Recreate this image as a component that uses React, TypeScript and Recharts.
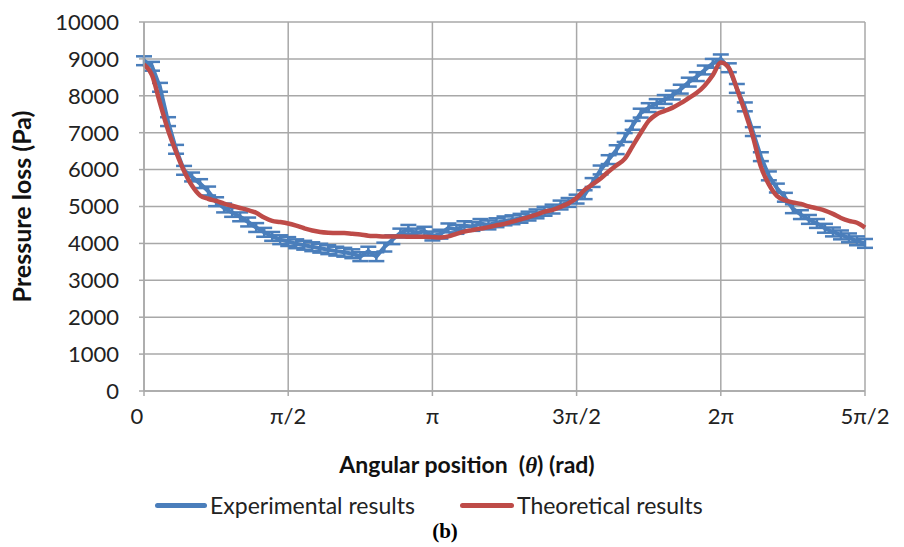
import React from 'react';
import { LineChart, Line, XAxis, YAxis, CartesianGrid, ErrorBar } from 'recharts';

// Angular position in degrees (0 .. 5π/2)
const angles = [
  0, 5, 10, 15, 20, 25, 30, 35, 40, 45, 50, 55, 60, 65, 70, 75, 80, 85, 90,
  95, 100, 105, 110, 115, 120, 125, 130, 135, 140, 145, 150, 155, 160, 165, 170, 175, 180,
  185, 190, 195, 200, 205, 210, 215, 220, 225, 230, 235, 240, 245, 250, 255, 260, 265, 270,
  275, 280, 285, 290, 295, 300, 305, 310, 315, 320, 325, 330, 335, 340, 345, 350, 355, 360,
  365, 370, 375, 380, 385, 390, 395, 400, 405, 410, 415, 420, 425, 430, 435, 440, 445, 450,
];

// Experimental pressure loss (Pa)
const experimental = [
  8950, 8800, 8230, 7300, 6550, 5980, 5800, 5620, 5420, 5130, 4960, 4840, 4720, 4580, 4430, 4300, 4190, 4100, 4050,
  3990, 3950, 3910, 3870, 3830, 3790, 3760, 3720, 3640, 3790, 3640, 3900, 4100, 4280, 4380, 4280, 4330, 4200,
  4250, 4420, 4380, 4480, 4460, 4540, 4500, 4560, 4610, 4640, 4680, 4740, 4800, 4870, 4930, 5040, 5110, 5200,
  5320, 5650, 5990, 6270, 6540, 6870, 7200, 7530, 7680, 7790, 7900, 8020, 8180, 8370, 8520, 8700, 8880, 9000,
  8760, 8200, 7700, 7030, 6350, 5830, 5500, 5250, 4940, 4780, 4650, 4540, 4410, 4310, 4230, 4150, 4070, 4000,
];

// Theoretical pressure loss (Pa)
const theoretical = [
  8850, 8560, 7800, 7070, 6480, 5960, 5560, 5300, 5210, 5150, 5080, 5020, 4960, 4900, 4830, 4700, 4610, 4580, 4540,
  4480, 4410, 4350, 4310, 4290, 4280, 4280, 4260, 4240, 4210, 4200, 4190, 4190, 4190, 4180, 4180, 4180, 4170,
  4160, 4190, 4260, 4320, 4360, 4400, 4440, 4490, 4530, 4590, 4650, 4710, 4780, 4860, 4910, 4990, 5090, 5230,
  5450, 5600, 5760, 5950, 6120, 6290, 6640, 6990, 7320, 7500, 7590, 7680, 7800, 7940, 8080, 8280, 8560, 8900,
  8760, 8200, 7580, 6900, 6080, 5600, 5290, 5170, 5110, 5070, 5000, 4950, 4890, 4800, 4690, 4610, 4560, 4430,
];

// error bar half-height (Pa), same for every measurement
const errorPa = 120;

const xTicks = [0, 90, 180, 270, 360, 450];
const xTickLabels = ['0', 'π/2', 'π', '3π/2', '2π', '5π/2'];
const yTicks = [0, 1000, 2000, 3000, 4000, 5000, 6000, 7000, 8000, 9000, 10000];

const data = angles.map((a, i) => ({
  angle: a,
  experimental: experimental[i],
  theoretical: theoretical[i],
  err: errorPa,
}));

const FONT = 'Lato, "Open Sans", sans-serif';
const BLUE = '#4a7ebb';
const RED = '#be4b48';

const XTick = (props: any) => {
  const { x, y, payload, index } = props;
  const dx = index === 0 ? -7 : 0;
  return (
    <text x={x + dx} y={y} dy="0.75em" textAnchor="middle" fontSize={22} fontFamily={FONT} fill="#222">
      {xTickLabels[xTicks.indexOf(payload.value)]}
    </text>
  );
};

export default function App() {
  return (
    <div style={{ position: 'relative', width: 904, height: 547, background: '#fff' }}>
      <style>{'body{margin:0}'}</style>
      <LineChart
        width={904}
        height={547}
        data={data}
        margin={{ top: 22, right: 39, left: 0, bottom: 116 }}
      >
        <CartesianGrid stroke="#a8a8a8" strokeWidth={1.5} />
        <XAxis
          dataKey="angle"
          type="number"
          domain={[0, 450]}
          ticks={xTicks}
          height={40}
          tickSize={5}
          tickMargin={11}
          stroke="#a8a8a8"
          strokeWidth={1.5}
          tick={<XTick />}
        />
        <YAxis
          type="number"
          domain={[0, 10000]}
          ticks={yTicks}
          width={144}
          tickSize={5}
          tickMargin={20}
          stroke="#a8a8a8"
          strokeWidth={1.5}
          tick={{ fontSize: 22, fontFamily: FONT, fill: '#222' }}
          label={{
            value: 'Pressure loss (Pa)',
            angle: -90,
            position: 'insideLeft',
            offset: 22,
            style: { textAnchor: 'middle', fontSize: 25, fontWeight: 700, fontFamily: FONT, fill: '#111' },
          }}
        />
        <Line
          type="linear"
          dataKey="experimental"
          stroke={BLUE}
          strokeWidth={4}
          dot={false}
          isAnimationActive={false}
        >
          <ErrorBar dataKey="err" width={8} strokeWidth={2.5} stroke={BLUE} direction="y" />
        </Line>
        <Line
          type="monotone"
          dataKey="theoretical"
          stroke={RED}
          strokeWidth={4.5}
          dot={false}
          isAnimationActive={false}
        />
      </LineChart>

      <div
        style={{
          position: 'absolute',
          left: 0,
          width: 934,
          top: 450,
          textAlign: 'center',
          fontFamily: FONT,
          fontWeight: 700,
          fontSize: 23,
          color: '#111',
          whiteSpace: 'pre',
        }}
      >
        {'Angular position  ('}
        <span style={{ fontFamily: '"Liberation Serif", serif', fontStyle: 'italic' }}>θ</span>
        {') (rad)'}
      </div>

      <div
        style={{
          position: 'absolute',
          left: 155,
          top: 491,
          display: 'flex',
          alignItems: 'center',
          fontFamily: FONT,
          fontSize: 23,
          color: '#222',
        }}
      >
        <span style={{ display: 'inline-block', width: 52, height: 5, borderRadius: 3, background: BLUE, marginRight: 3 }} />
        <span style={{ width: 250 }}>Experimental results</span>
        <span style={{ display: 'inline-block', width: 54, height: 5, borderRadius: 3, background: RED, marginRight: 3 }} />
        <span>Theoretical results</span>
      </div>

      <div
        style={{
          position: 'absolute',
          left: 0,
          width: 890,
          top: 519,
          textAlign: 'center',
          fontFamily: '"Liberation Serif", serif',
          fontWeight: 700,
          fontSize: 21,
          color: '#000',
        }}
      >
        (b)
      </div>
    </div>
  );
}
